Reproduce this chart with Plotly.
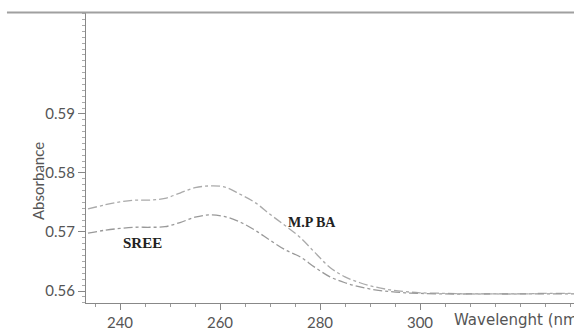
import plotly.graph_objects as go

wavelength = [233.6, 237, 240, 243, 246, 249, 252, 255, 258, 261, 264, 267, 270, 273, 276, 279, 282, 285, 288, 291, 294, 297, 300, 305, 310, 315, 320, 325, 330.8]
mpba = [0.5739, 0.5746, 0.5751, 0.5754, 0.5754, 0.5757, 0.5766, 0.5775, 0.5778, 0.5776, 0.5764, 0.5750, 0.5730, 0.5711, 0.5691, 0.5665, 0.5640, 0.5624, 0.5614, 0.5607, 0.5602, 0.5599, 0.5597, 0.5596, 0.5595, 0.5595, 0.5595, 0.5596, 0.5596]
sree = [0.5698, 0.5703, 0.5706, 0.5708, 0.5708, 0.5709, 0.5716, 0.5725, 0.5729, 0.5726, 0.5717, 0.5703, 0.5686, 0.5670, 0.5658, 0.5640, 0.5624, 0.5614, 0.5607, 0.5602, 0.5599, 0.5597, 0.5596, 0.5595, 0.5595, 0.5595, 0.5595, 0.5595, 0.5595]
x_ticks = [240, 260, 280, 300]
y_ticks = [0.56, 0.57, 0.58, 0.59]

fig = go.Figure()
fig.add_trace(go.Scatter(x=wavelength, y=mpba, mode="lines", line=dict(color="#aaaaaa", width=1.3, dash="dashdot", shape="spline"), name="M.P BA"))
fig.add_trace(go.Scatter(x=wavelength, y=sree, mode="lines", line=dict(color="#999999", width=1.3, dash="dashdot", shape="spline"), name="SREE"))

fig.add_annotation(x=244.4, y=0.56814, text="<b>SREE</b>", showarrow=False,
                   font=dict(family="Liberation Serif", size=15, color="#222222"))
fig.add_annotation(x=278.4, y=0.57153, text="<b>M.P BA</b>", showarrow=False,
                   font=dict(family="Liberation Serif", size=14, color="#222222"))
fig.add_annotation(xref="paper", yref="paper", x=(452 - 86) / 488, y=-(320 - 303) / 290, xanchor="left", yanchor="middle",
                   text="Wavelenght (nm)", showarrow=False,
                   font=dict(family="DejaVu Sans", size=15, color="#555555"))
fig.add_annotation(xref="paper", yref="paper", x=(27 - 86) / 488, y=(303 - 181) / 290, textangle=-90,
                   text="Absorbance", showarrow=False,
                   font=dict(family="Lato", size=15, color="#555555"))
fig.add_shape(type="line", xref="paper", yref="paper", x0=-0.162, x1=1.0, y0=1.002, y1=1.002,
              layer="above", line=dict(color="#a0a0a0", width=2))

fig.update_layout(
    width=574, height=328,
    margin=dict(l=86, r=0, t=13, b=25),
    paper_bgcolor="white", plot_bgcolor="white",
    showlegend=False,
    font=dict(family="Lato", size=15, color="#555555"),
)
fig.update_xaxes(range=[233.2, 330.8], tickvals=x_ticks, ticktext=[str(v) for v in x_ticks],
                 automargin=False,
                 showgrid=False, zeroline=False, showline=True, linecolor="#888888", linewidth=1,
                 ticks="outside", ticklen=6, tickcolor="#888888", ticklabelstandoff=0,
                 minor=dict(dtick=5, tick0=240, ticks="outside", ticklen=3, tickcolor="#999999"),
                 tickfont=dict(family="Lato", size=15, color="#555555"))
fig.update_yaxes(range=[0.55797, 0.6071], tickvals=y_ticks, ticktext=[f"{v:.2f}" for v in y_ticks],
                 automargin=False,
                 showgrid=False, zeroline=False, showline=True, linecolor="#888888", linewidth=1,
                 ticks="outside", ticklen=7, tickcolor="#888888",
                 minor=dict(dtick=0.001, tick0=0.56, ticks="outside", ticklen=3, tickcolor="#aaaaaa"),
                 tickfont=dict(family="Lato", size=15, color="#555555"))

fig.write_html("out.html", config={"displayModeBar": False},
               post_script="document.body.style.margin='0px';")
